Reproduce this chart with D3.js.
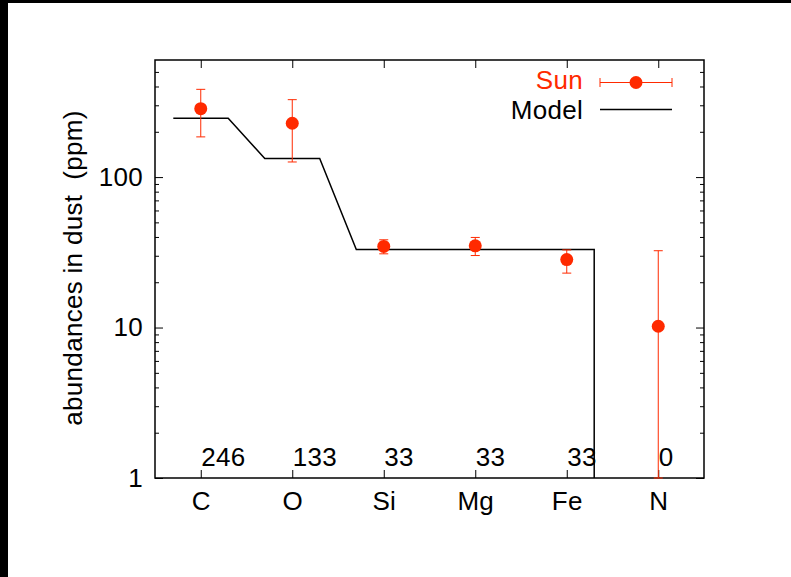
<!DOCTYPE html>
<html>
<head>
<meta charset="utf-8">
<script src="https://cdn.jsdelivr.net/npm/d3@7/dist/d3.min.js"></script>
<style>
  html, body { margin: 0; padding: 0; background: #fff; }
  svg { display: block; }
  text { font-family: "Liberation Sans", Arial, Helvetica, sans-serif; letter-spacing: 0.3px; }
</style>
</head>
<body>
<div id="chart"></div>
<script>
// elements along the x axis
const elements = ["C", "O", "Si", "Mg", "Fe", "N"];

// solar abundances in dust (ppm) with error bar ends
const sunValues = [285, 228, 34.6, 34.9, 28.3, 10.2];
const sunLow    = [185, 126, 30.9, 30.1, 23.0, 0];
const sunHigh   = [383, 327, 38.3, 39.7, 32.8, 32.4];

// model abundances (also printed along the bottom)
const modelValues = [246, 133, 33, 33, 33, 0];

// y axis ticks
const yMajor = [1, 10, 100];
const yMinor = [2, 3, 4, 5, 6, 7, 8, 9, 20, 30, 40, 50, 60, 70, 80, 90, 200, 300, 400, 500];

const WIDTH = 791, HEIGHT = 577;
const X0 = 155, X1 = 704, Y0 = 60, Y1 = 478;
const RED = "#ff2a00";
const FS = 26;

const svg = d3.select("#chart").append("svg")
    .attr("width", WIDTH)
    .attr("height", HEIGHT);

svg.append("rect").attr("width", WIDTH).attr("height", HEIGHT).attr("fill", "#fff");
// black strips along top and left edge of the original picture
svg.append("rect").attr("x", 0).attr("y", 0).attr("width", WIDTH).attr("height", 3).attr("fill", "#000");
svg.append("rect").attr("x", 0).attr("y", 0).attr("width", 8).attr("height", HEIGHT).attr("fill", "#000");

const x = d3.scaleLinear().domain([0.5, 6.5]).range([X0, X1]);
const y = d3.scaleLog().domain([1, 600]).range([Y1, Y0]);
const yc = v => y(Math.max(v, y.domain()[0]));

// ticks pointing inward on all four sides
function drawAxis(axis, tx, ty, labels) {
    const g = svg.append("g").attr("transform", `translate(${tx},${ty})`).call(axis);
    g.select(".domain").remove();
    g.selectAll("line").attr("stroke", "#000").attr("stroke-width", 1);
    g.selectAll("text")
        .attr("font-size", FS)
        .attr("font-family", "Liberation Sans, Arial, sans-serif")
        .attr("fill", "#000");
    if (!labels) g.selectAll("text").remove();
    return g;
}

const xIdx = elements.map((d, i) => i + 1);
drawAxis(d3.axisBottom(x).tickValues(xIdx).tickFormat(i => elements[i - 1])
    .tickSizeInner(-8).tickSizeOuter(0).tickPadding(14), 0, Y1, true);
drawAxis(d3.axisTop(x).tickValues(xIdx).tickSizeInner(-8).tickSizeOuter(0), 0, Y0, false);

drawAxis(d3.axisLeft(y).tickValues(yMajor).tickFormat(d3.format("d"))
    .tickSizeInner(-8).tickSizeOuter(0).tickPadding(12), X0, 0, true);
drawAxis(d3.axisLeft(y).tickValues(yMinor).tickSizeInner(-4).tickSizeOuter(0), X0, 0, false);
drawAxis(d3.axisRight(y).tickValues(yMajor).tickSizeInner(-8).tickSizeOuter(0), X1, 0, false);
drawAxis(d3.axisRight(y).tickValues(yMinor).tickSizeInner(-4).tickSizeOuter(0), X1, 0, false);

// frame
svg.append("rect")
    .attr("x", X0).attr("y", Y0)
    .attr("width", X1 - X0).attr("height", Y1 - Y0)
    .attr("fill", "none").attr("stroke", "#000").attr("stroke-width", 1.5);

// y label
svg.append("text")
    .attr("transform", "translate(82,268) rotate(-90)")
    .attr("text-anchor", "middle")
    .attr("font-size", FS)
    .attr("xml:space", "preserve")
    .text("abundances in dust  (ppm)");

// model step line: plateaus +-0.3 around each element, drop to axis at a zero value
const modelPts = [];
for (let i = 0; i < modelValues.length; i++) {
    const v = modelValues[i];
    if (v > 0) {
        modelPts.push([i + 1 - 0.3, v], [i + 1 + 0.3, v]);
    } else {
        modelPts.push([modelPts[modelPts.length - 1][0], y.domain()[0]]);
        break;
    }
}
svg.append("path")
    .datum(modelPts)
    .attr("fill", "none")
    .attr("stroke", "#000")
    .attr("stroke-width", 1.5)
    .attr("d", d3.line().x(d => x(d[0])).y(d => yc(d[1])));

// model values printed near the bottom
svg.append("g").selectAll("text")
    .data(modelValues)
    .join("text")
    .attr("x", (d, i) => x(i + 1) + 0.5)
    .attr("y", 466)
    .attr("font-size", FS)
    .text(d => d);

// sun error bars and points
const sun = elements.map((e, i) => ({ i: i + 1, v: sunValues[i], lo: sunLow[i], hi: sunHigh[i] }));
const gs = svg.append("g").attr("stroke", RED).attr("stroke-width", 1);
gs.selectAll("line.bar").data(sun).join("line")
    .attr("x1", d => x(d.i)).attr("x2", d => x(d.i))
    .attr("y1", d => yc(d.lo)).attr("y2", d => yc(d.hi));
gs.selectAll("line.capHi").data(sun).join("line")
    .attr("x1", d => x(d.i) - 4.5).attr("x2", d => x(d.i) + 4.5)
    .attr("y1", d => yc(d.hi)).attr("y2", d => yc(d.hi));
gs.selectAll("line.capLo").data(sun).join("line")
    .attr("x1", d => x(d.i) - 4.5).attr("x2", d => x(d.i) + 4.5)
    .attr("y1", d => yc(d.lo)).attr("y2", d => yc(d.lo));
svg.append("g").selectAll("circle").data(sun).join("circle")
    .attr("cx", d => x(d.i)).attr("cy", d => yc(d.v))
    .attr("r", 6.5).attr("fill", RED);

// legend
const lg = svg.append("g");
lg.append("text").attr("x", 583).attr("y", 89).attr("text-anchor", "end")
    .attr("font-size", FS).attr("fill", RED).text("Sun");
lg.append("line").attr("x1", 600).attr("x2", 672).attr("y1", 82.5).attr("y2", 82.5)
    .attr("stroke", RED).attr("stroke-width", 1);
[600, 672].forEach(cx => lg.append("line").attr("x1", cx).attr("x2", cx)
    .attr("y1", 78).attr("y2", 87).attr("stroke", RED).attr("stroke-width", 1));
lg.append("circle").attr("cx", 636).attr("cy", 82.5).attr("r", 6.5).attr("fill", RED);
lg.append("text").attr("x", 583).attr("y", 119).attr("text-anchor", "end")
    .attr("font-size", FS).attr("fill", "#000").text("Model");
lg.append("line").attr("x1", 600).attr("x2", 672).attr("y1", 109.5).attr("y2", 109.5)
    .attr("stroke", "#000").attr("stroke-width", 1.5);
</script>
</body>
</html>
